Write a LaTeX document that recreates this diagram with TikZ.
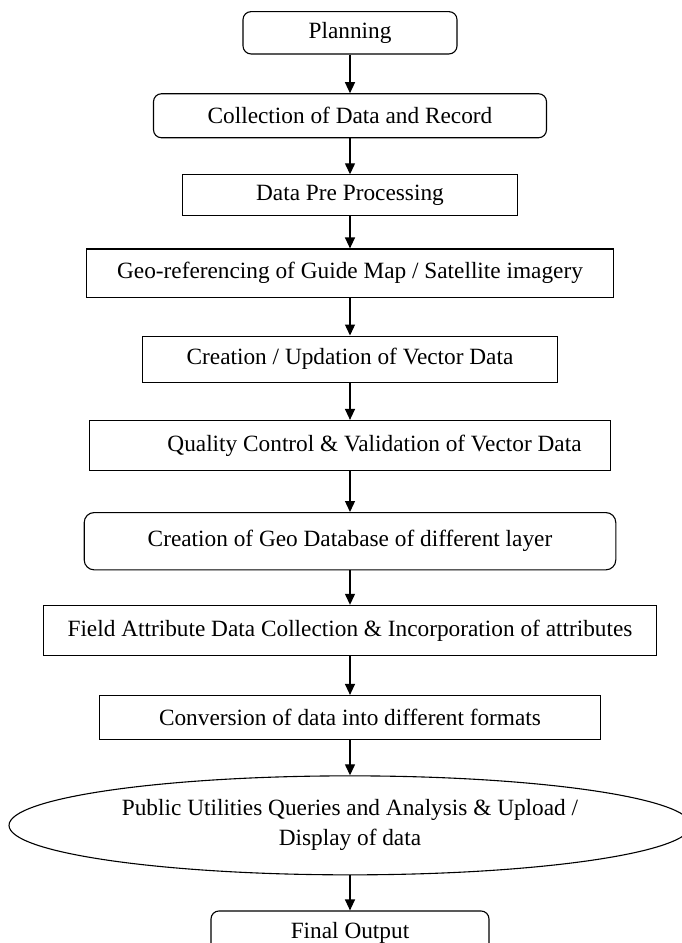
\documentclass[tikz,border=0pt]{standalone}
\usepackage{fontspec}
\setmainfont{Liberation Serif}
\usetikzlibrary{positioning,shapes.geometric,arrows.meta}

\begin{document}
\begin{tikzpicture}[
    font=\fontsize{23.3}{30}\selectfont,
    block/.style={
        draw,
        line width=1.1pt,
        inner sep=2pt,
        align=center
    },
    rblock/.style={block, rounded corners=8pt},
    oval/.style={block, ellipse, inner sep=0pt},
    arrow/.style={-{Triangle[length=11pt,width=10pt]}, line width=1.3pt}
]
\useasboundingbox (0,0) rectangle (682pt,-943pt);

% ============================================================
% PREPARATION
% ============================================================
\node[rblock, minimum width=214pt, minimum height=42.3pt] (plan) at (350pt,-32.8pt) {Planning};
\node[rblock, minimum width=393pt, minimum height=44pt, below=38.7pt of plan] (collect) {Collection of Data and Record};
\node[block, minimum width=335pt, minimum height=40.6pt, below=36pt of collect] (prep) {Data Pre Processing};
\node[block, minimum width=526.6pt, minimum height=48.6pt, below=32.4pt of prep] (georef) {Geo-referencing of Guide Map / Satellite imagery};

\draw[arrow] (plan) -- (collect);
\draw[arrow] (collect) -- (prep);
\draw[arrow] (prep) -- (georef);

% ============================================================
% VECTOR DATA AND DATABASE
% ============================================================
\node[block, minimum width=414.6pt, minimum height=46pt, below=37.4pt of georef] (vector) {Creation / Updation of Vector Data};
\node[block, minimum width=521.6pt, minimum height=50pt, below=37.3pt of vector] (quality) {\hspace*{49pt}Quality Control \& Validation of Vector Data};
\node[rblock, rounded corners=10pt, minimum width=531.6pt, minimum height=57.3pt, below=41pt of quality] (geodb) {Creation of Geo Database of different layer};
\node[block, minimum width=612.3pt, minimum height=50pt, below=34.4pt of geodb] (field) {Field Attribute Data Collection \& Incorporation of attributes};

\draw[arrow] (georef) -- (vector);
\draw[arrow] (vector) -- (quality);
\draw[arrow] (quality) -- (geodb);
\draw[arrow] (geodb) -- (field);

% ============================================================
% OUTPUT
% ============================================================
\node[block, minimum width=501.8pt, minimum height=44.3pt, below=39pt of field] (convert) {Conversion of data into different formats};
\node[oval, minimum width=682pt, minimum height=99pt, below=35pt of convert] (public) {Public Utilities Queries and Analysis \& Upload /\\Display of data};
\node[rblock, minimum width=278pt, minimum height=44pt, below=35pt of public] (final) {Final Output};

\draw[arrow] (field) -- (convert);
\draw[arrow] (convert) -- (public);
\draw[arrow] (public) -- (final);

\end{tikzpicture}
\end{document}
